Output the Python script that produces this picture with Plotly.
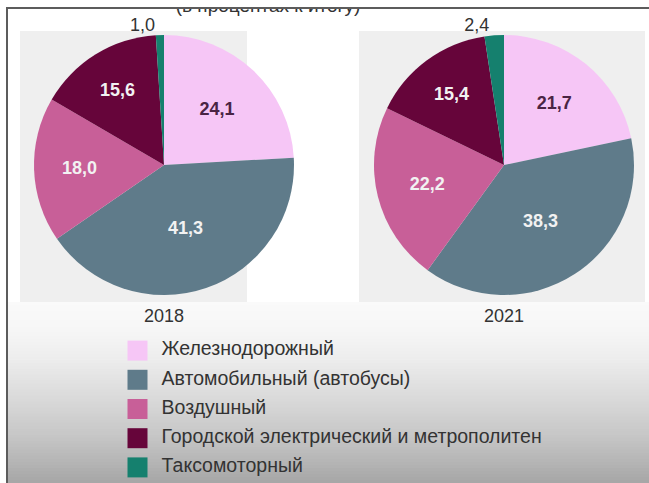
import plotly.graph_objects as go
import numpy as np

W, H = 649, 483

categories = ["Железнодорожный", "Автомобильный (автобусы)", "Воздушный",
              "Городской электрический и метрополитен", "Таксомоторный"]
values_2018 = [24.1, 41.3, 18.0, 15.6, 1.0]
values_2021 = [21.7, 38.3, 22.2, 15.4, 2.4]
years = ["2018", "2021"]
subtitle = "(в процентах к итогу)"

colors = ["#f6c6f6", "#5f7b8a", "#c85f98", "#66053a", "#15806e"]
inside_text_colors = ["#4a2444", "#f2f2f2", "#f2f2f2", "#f2f2f2", "#333333"]
text_positions = ["inside", "inside", "inside", "inside", "outside"]
FONT = "Liberation Sans, Arial, sans-serif"


def px_x(x):
    return x / W


def px_y(y):
    return 1 - y / H


fig = go.Figure()

annotations = []
pie_boxes = [(164, 165, 130), (504, 165, 130)]
for vals, yr, (cx, cy, r) in zip([values_2018, values_2021], years, pie_boxes):
    fig.add_trace(go.Pie(
        labels=categories, values=vals, sort=False, direction="clockwise", rotation=0,
        marker=dict(colors=colors, line=dict(width=0)),
        texttemplate="%{value:.1f}", textposition=text_positions,
        insidetextorientation="horizontal",
        insidetextfont=dict(family=FONT, size=18, color=inside_text_colors, weight="bold"),
        outsidetextfont=dict(family=FONT, size=18, color="#333333"),
        domain=dict(x=[px_x(cx - r), px_x(cx + r)], y=[px_y(cy + r), px_y(cy - r)]),
        showlegend=False, hoverinfo="label+value",
    ))
    annotations.append(dict(text=yr, x=px_x(cx), y=px_y(316), xref="paper", yref="paper",
                            xanchor="center", yanchor="middle", showarrow=False,
                            font=dict(family=FONT, size=18, color="#333333")))

# legend drawn as scatter: swatches + labels
idx = list(range(len(categories)))
fig.add_trace(go.Scatter(
    x=[0] * len(categories), y=idx, mode="markers",
    marker=dict(symbol="square", size=20, color=colors, line=dict(width=0)),
    xaxis="x", yaxis="y", showlegend=False, hoverinfo="skip", cliponaxis=False,
))
fig.add_trace(go.Scatter(
    x=[24] * len(categories), y=idx, mode="text", text=categories, textposition="middle right",
    textfont=dict(family=FONT, size=19.5, color="#333333"),
    xaxis="x", yaxis="y", showlegend=False, hoverinfo="skip", cliponaxis=False,
))

# subtitle, partly hidden by the frame (top cut off as in the source screenshot)
fig.add_trace(go.Scatter(
    x=[0], y=[8], mode="text", text=[subtitle], textposition="middle center",
    textfont=dict(family=FONT, size=19, color="#333333"),
    xaxis="x2", yaxis="y2", showlegend=False, hoverinfo="skip", cliponaxis=False,
))

shapes = []
stops_y = [302, 330, 360, 400, 440, 483]
stops_c = [250, 246, 236, 217, 196, 166]
n = 60
edges = np.linspace(302, 483, n + 1)
for i in range(n):
    ym = (edges[i] + edges[i + 1]) / 2
    g = int(round(np.interp(ym, stops_y, stops_c)))
    shapes.append(dict(type="rect", xref="paper", yref="paper", layer="below",
                       x0=px_x(7), x1=1, y0=px_y(edges[i + 1] + 0.5), y1=px_y(edges[i]),
                       fillcolor=f"rgb({g},{g},{g})", line=dict(width=0)))
for x0, x1 in [(20, 247), (359, 645)]:
    shapes.append(dict(type="rect", xref="paper", yref="paper", layer="below",
                       x0=px_x(x0), x1=px_x(x1), y0=px_y(302), y1=px_y(31),
                       fillcolor="#efefef", line=dict(width=0)))
# white strip above the frame hides the top of the cut subtitle
shapes.append(dict(type="rect", xref="paper", yref="paper", layer="above",
                   x0=0, x1=1, y0=px_y(8), y1=1, fillcolor="white", line=dict(width=0)))
shapes.append(dict(type="line", xref="paper", yref="paper", x0=px_x(6), x1=1, y0=px_y(8), y1=px_y(8),
                   line=dict(color="#5c5c5c", width=2)))
shapes.append(dict(type="line", xref="paper", yref="paper", x0=px_x(7), x1=px_x(7), y0=0, y1=px_y(8),
                   line=dict(color="#5c5c5c", width=2)))

fig.update_layout(
    width=W, height=H, margin=dict(l=0, r=0, t=0, b=0),
    paper_bgcolor="white", plot_bgcolor="rgba(0,0,0,0)",
    separators=", ", shapes=shapes, annotations=annotations, showlegend=False,
    xaxis=dict(domain=[0, 1], range=[-137.5, W - 137.5], visible=False, fixedrange=True),
    yaxis=dict(domain=[px_y(482), px_y(336)], range=[len(categories) - 0.5, -0.5],
               visible=False, fixedrange=True),
    xaxis2=dict(domain=[0, 1], range=[-268, W - 268], visible=False, fixedrange=True, anchor="y2"),
    yaxis2=dict(domain=[px_y(30), 1], range=[-15, 15], visible=False, fixedrange=True,
                anchor="x2"),
)

fig.write_html("out.html", config={"displayModeBar": False},
               post_script="document.body.style.margin='0';")
